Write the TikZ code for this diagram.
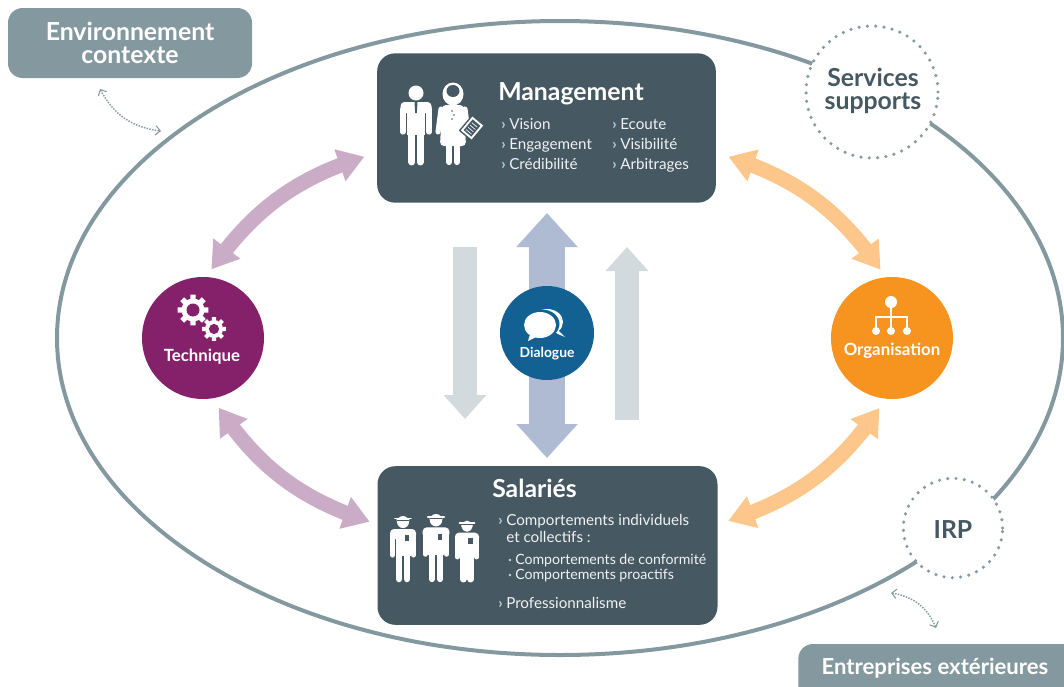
\documentclass[tikz,border=0pt]{standalone}
\usepackage{fontspec}
\setmainfont{Lato}
\usetikzlibrary{arrows.meta, bending}
\definecolor{boxdark}{HTML}{465862}
\definecolor{ringgray}{HTML}{84999F}
\definecolor{chevlight}{HTML}{BCD0D3}
\definecolor{techpurple}{HTML}{85206B}
\definecolor{techlight}{HTML}{CBACC7}
\definecolor{orgorange}{HTML}{F79420}
\definecolor{orglight}{HTML}{FDC68B}
\definecolor{dlgblue}{HTML}{136093}
\definecolor{dlglight}{HTML}{AEBBD3}
\definecolor{sidegray}{HTML}{D2DADD}
\newcommand{\chv}{\llap{\textcolor{chevlight}{\textbf{›}}\hspace{2.6pt}}}
\newcommand{\bul}{\llap{\textcolor{chevlight}{\raisebox{1pt}{\fontsize{5}{5}\selectfont •}}\hspace{2.4pt}}}
\tikzset{
  darkbox/.style={fill=boxdark, rounded corners=13.5pt, minimum width=#1, minimum height=112pt, inner sep=0pt},
  tagbox/.style={fill=ringgray, rounded corners=11pt, text=white, align=center, inner sep=0pt,
                 font=\fontsize{18.6}{18}\selectfont\bfseries},
  badge/.style={circle, fill=#1, minimum size=91.5pt, inner sep=0pt},
  badgetext/.style={text=white, inner sep=0pt, font=\fontsize{12.6}{14}\selectfont\bfseries},
  dotring/.style={circle, fill=white, draw=ringgray, line width=2.6pt, line cap=round,
                  dash pattern=on 0pt off 6.25pt, inner sep=0pt, minimum size=#1},
  ringtext/.style={text=boxdark, align=center, inner sep=0pt, font=\fontsize{18.6}{18}\selectfont\bfseries},
  boxtitle/.style={anchor=base west, text=white, inner sep=0pt, font=\fontsize{18.6}{20}\selectfont\bfseries},
  listitem/.style={anchor=base west, text=white!92!boxdark, inner sep=0pt, font=\fontsize{11.4}{13}\selectfont},
  subitem/.style={anchor=base west, text=white!92!boxdark, inner sep=0pt, font=\fontsize{10.6}{12}\selectfont},
  curvelink/.style={draw=#1, line width=11.25pt,
                    {Triangle[length=19.5pt,width=24pt,fill=#1]}-{Triangle[length=19.5pt,width=24pt,fill=#1]}},
  tinylink/.style={draw=ringgray, line width=1.1pt, densely dotted,
                   {Straight Barb[length=3.5pt,width=7pt,line width=.8pt]}-{Straight Barb[length=3.5pt,width=7pt,line width=.8pt]}},
  worker/.pic={
    \fill[white] (0,-60) circle (6);
    \fill[white] (-6.5,-63) arc (180:0:6.5 and 7) -- cycle;
    \draw[white, line width=1.4pt, line cap=round] (-8,-63.5) -- (8,-63.5);
    \draw[boxdark, line width=.6pt] (-6,-61.8) -- (6,-61.8);
    \fill[white, rounded corners=3pt] (-13,-53) rectangle (13,-43);
    \draw[white, line width=3.8pt, line cap=round] (-10.5,-47) -- (-10.5,-27) (10.5,-47) -- (10.5,-27);
    \fill[white] (-7.5,-48) rectangle (7.5,-26);
    \draw[white, line width=4.9pt, line cap=round] (-4,-28) -- (-4,-3) (4,-28) -- (4,-3);
    \fill[boxdark] (1.5,-47) rectangle (6,-41);
  },
  gear/.pic={
    \fill[white] (0,0) circle (11.5);
    \foreach \a in {0,45,...,315}
      \fill[white] (\a-14:11) -- (\a-10:15.5) -- (\a+10:15.5) -- (\a+14:11) -- cycle;
    \fill[techpurple] (0,0) circle (6.5);
  }
}

\begin{document}
\begin{tikzpicture}[x=0.75pt, y=-0.75pt]
  \useasboundingbox (0,0) rectangle (1064,686);
  \clip (0,0) rectangle (1064,686);

  % outer ring
  \draw [ringgray, line width=3pt] (560,338) ellipse [x radius=377.25pt, y radius=237.75pt];
  \node [dotring=99pt] (services) at (872,92) {};
  \node [dotring=74.5pt] (irp) at (953,528) {};
  \node [ringtext] (servicestext) at (873,91) {Services\\[-1pt]supports};
  \node [ringtext] (irptext) at (953,530) {IRP};

  % corner tags
  \node [tagbox, minimum width=183pt, minimum height=52.5pt] (env) at (130,43) {Environnement\\[-1pt]contexte};
  \node [tagbox, minimum width=220pt, minimum height=48pt] (firms) at (945,676) {};
  \node [text=white, inner sep=0pt, font=\fontsize{16.6}{18}\selectfont\bfseries] (firmstext) at (935,668) {Entreprises extérieures};
  \coordinate (envend) at (100,89);
  \coordinate (ringwest) at (161,131);
  \coordinate (ringsouth) at (891,593);
  \coordinate (firmsend) at (936,628);
  \draw [tinylink] (envend) to [bend right=28] (ringwest);
  \draw [tinylink] (ringsouth) to [bend left=30] (firmsend);

  % vertical arrows
  \coordinate (leftstart) at (465,247);
  \coordinate (leftend) at (465,419);
  \coordinate (rightstart) at (627,420);
  \coordinate (rightend) at (627,247);
  \coordinate (midtop) at (547,213);
  \coordinate (midbottom) at (547,458);
  \draw [sidegray, line width=18pt, -{Triangle[length=18pt,width=31pt]}] (leftstart) -- (leftend);
  \draw [sidegray, line width=18pt, -{Triangle[length=18pt,width=31pt]}] (rightstart) -- (rightend);
  \draw [dlglight, line width=26.5pt, {Triangle[length=25.5pt,width=44.5pt]}-{Triangle[length=25.5pt,width=44.5pt]}] (midtop) -- (midbottom);

  % main boxes
  \node [darkbox=254pt] (mgmt) at (546.5,128) {};
  \node [darkbox=255pt, minimum height=119pt] (staff) at (547.5,545.5) {};

  % round badges
  \node [badge=techpurple] (tech) at (203,338) {};
  \node [badge=orgorange] (org) at (892,338) {};
  \node [badge=dlgblue, minimum size=70.5pt] (dialogue) at (547,333) {};
  \node [badgetext] (techtext) at (202,357) {Technique};
  \node [badgetext] (orgtext) at (892,351) {Organisation};
  \node [badgetext, font=\fontsize{10.4}{12}\selectfont\bfseries] (dialoguetext) at (547,354) {Dialogue};

  % curved links
  \draw [curvelink=techlight, shorten <=6.75pt, shorten >=9.75pt] (tech.87) to [bend left=20] ([yshift=-18.75pt]mgmt.west);
  \draw [curvelink=techlight, shorten <=8.25pt, shorten >=6pt] (tech.-81) to [bend right=20] ([yshift=16pt]staff.west);
  \draw [curvelink=orglight, shorten <=6.75pt, shorten >=9.75pt] (org.96) to [bend right=20] ([yshift=-18.75pt]mgmt.east);
  \draw [curvelink=orglight, shorten <=8.25pt, shorten >=8.25pt] (org.-96) to [bend left=20] ([yshift=16pt]staff.east);

  % management text
  \node [boxtitle] (mgmttitle) at (498,100) {Management};
  \foreach \name/\x/\y/\txt in {vision/509/129/Vision, engage/509/149/Engagement, cred/509/169/Crédibilité,
                                listen/620/129/Ecoute, seen/620/149/Visibilité, arbit/620/169/Arbitrages}
    \node [listitem] (\name) at (\x,\y) {\chv\txt};

  % staff text
  \node [boxtitle] (stafftitle) at (492,497) {Salariés};
  \node [listitem] (behave) at (506,525) {\chv Comportements individuels};
  \node [listitem] (behavetwo) at (506,542) {et collectifs :};
  \node [subitem] (conform) at (515,564) {\bul Comportements de conformité};
  \node [subitem] (proact) at (515,579) {\bul Comportements proactifs};
  \node [listitem] (profess) at (506,608) {\chv Professionnalisme};

  % managers
  \begin{scope}[shift={(416,165)}]
    \fill [white] (0,-72) circle (7.5);
    \fill [white, rounded corners=3pt] (-15.5,-63) rectangle (15.5,-52);
    \draw [white, line width=3.9pt, line cap=round] (-13,-56) -- (-13,-33) (13,-56) -- (13,-33);
    \fill [white] (-9,-60) rectangle (9,-30);
    \draw [white, line width=5.2pt, line cap=round] (-4.3,-32) -- (-4.3,-3) (4.3,-32) -- (4.3,-3);
    \fill [boxdark] (-1.5,-63) -- (1.5,-63) -- (0.8,-52) -- (-0.8,-52) -- cycle;
  \end{scope}
  \begin{scope}[shift={(453,165)}]
    \fill [white] (0,-71) ellipse (10.5 and 11.5);
    \fill [boxdark] (0,-74) ellipse (6.5 and 6);
    \fill [white, rounded corners=3pt] (-11,-60) -- (11,-60) -- (13,-19) -- (-13,-19) -- cycle;
    \draw [white, line width=3.8pt, line cap=round] (-12,-56) -- (-15,-33) (12,-56) -- (15,-33);
    \draw [white, line width=4.6pt, line cap=round] (-4,-20) -- (-4,-3) (4,-20) -- (4,-3);
    \fill [boxdark] (-1,-54) circle (.8) (1,-50) circle (.8) (-1,-46) circle (.8);
    \begin{scope}[shift={(19,-37)}, rotate=-40]
      \fill [boxdark] (-8.5,-10.5) rectangle (8.5,10.5);
      \fill [white] (-7,-9) rectangle (7,9);
      \fill [boxdark] (-5,-7) rectangle (5,7);
      \draw [white, line width=.5pt] (-3.5,-4) -- (3.5,-4) (-3.5,-1) -- (3.5,-1) (-3.5,2) -- (3.5,2) (-3.5,5) -- (3.5,5);
    \end{scope}
  \end{scope}

  % workers
  \pic at (403,582) {worker};
  \pic [scale=1.03] at (436,582) {worker};
  \pic [scale=.93] at (467,582) {worker};

  % gears
  \pic at (193,310) {gear};
  \pic [scale=.78] at (214,329) {gear};

  % speech bubbles
  \fill [white] (547,322) ellipse (16 and 13);
  \fill [white] (556,328) -- (565,337) -- (558,334) -- (552,330) -- cycle;
  \fill [dlgblue] (542,324) ellipse (17.5 and 14.5);
  \fill [white] (540,325) ellipse (16 and 13);
  \fill [white] (531,331) -- (528,341) -- (538,336) -- cycle;

  % org chart
  \draw [white, line width=1.2pt] (891,302) -- (891,331) (876,331) -- (876,317) -- (907,317) -- (907,331);
  \fill [white] (891,302) circle (6) (876,331) circle (4) (891,331) circle (4) (907,331) circle (4);
\end{tikzpicture}
\end{document}
